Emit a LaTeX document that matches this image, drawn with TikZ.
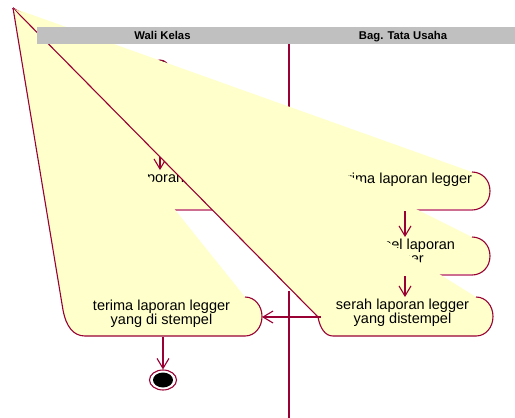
\documentclass[tikz,border=0pt]{standalone}
\usepackage{fontspec}
\setmainfont{Liberation Sans}
\usetikzlibrary{arrows.meta,shapes.geometric}
\definecolor{actline}{RGB}{153,0,51}
\definecolor{actfill}{RGB}{255,255,204}
\definecolor{actpink}{RGB}{205,110,145}
\definecolor{lanegray}{RGB}{192,192,192}

\begin{document}
\begin{tikzpicture}[x=1pt,y=-1pt]
    \tikzstyle{rim}=[draw=actline,line width=1.1pt]
    \tikzstyle{soft}=[draw=actpink,line width=1.1pt]
    \tikzstyle{actbody}=[fill=actfill]
    \tikzstyle{txt}=[anchor=base,align=center,inner sep=0pt,font=\fontsize{14.5}{14}\selectfont]
    \tikzstyle{head}=[anchor=base,inner sep=0pt,font=\bfseries\fontsize{11.3}{12}\selectfont]
    \tikzstyle{flow}=[draw=actline,line width=1.1pt,-{Straight Barb[length=10pt,width=12pt]}]
    \useasboundingbox (0,0) rectangle (515,418);
    \coordinate (T) at (13,8);

    % lane divider
    \draw[rim] (289,44) -- (289,107);
    \draw[rim] (289,291) -- (289,418);

    % start
    \node (S) at (160,69) [circle,fill=black,draw=actline,line width=1pt,minimum size=18pt,inner sep=0pt] {};

    % serah laporan legger (wali kelas)
    \fill[actbody] (T) -- (245,170) .. controls (255,170) and (262,179) .. (262,190) .. controls (262,201) and (255,210) .. (245,210) -- (90,210) .. controls (82,210) and (77,201) .. (75,190) -- cycle;
    \draw[rim] (245,170) .. controls (255,170) and (262,179) .. (262,190) .. controls (262,201) and (255,210) .. (245,210);
    \draw[soft] (245,210) -- (90,210);
    \draw[rim] (90,210) .. controls (82,210) and (77,201) .. (75,190) -- (T);
    \node (A1) at (162,182) [txt] {serah laporan legger};
    \coordinate (A1in) at (160,170);
    \coordinate (A1out) at (262,190);
    \draw[flow] (S) -- (A1in);

    % terima laporan legger (tata usaha)
    \fill[actbody] (T) -- (472,172) .. controls (482,172) and (490,180) .. (490,191) .. controls (490,202) and (482,210) .. (472,210) -- (335,210) .. controls (326,210) and (320,201) .. (318,191) -- cycle;
    \draw[rim] (472,172) .. controls (482,172) and (490,180) .. (490,191) .. controls (490,202) and (482,210) .. (472,210);
    \draw[soft] (472,210) -- (335,210);
    \draw[rim] (335,210) .. controls (326,210) and (320,201) .. (318,191) -- (T);
    \node (A2) at (403.5,183) [txt] {terima laporan legger};
    \coordinate (A2in) at (318,191);
    \coordinate (A2out) at (405,211);
    \draw[flow] (A1out) -- (A2in);

    % stempel laporan legger
    \fill[actbody] (T) -- (472,237) .. controls (482,237) and (490,245) .. (490,256) .. controls (490,267) and (482,275) .. (472,275) -- (335,275) .. controls (326,275) and (320,266) .. (318,256) -- cycle;
    \draw[rim] (472,237) .. controls (482,237) and (490,245) .. (490,256) .. controls (490,267) and (482,275) .. (472,275);
    \draw[soft] (472,275) -- (335,275);
    \draw[rim] (335,275) .. controls (326,275) and (320,266) .. (318,256) -- (T);
    \node (A3) at (403.5,263) [txt] {stempel laporan\\legger};
    \coordinate (A3in) at (405,237);
    \coordinate (A3out) at (405,276);
    \draw[flow] (A2out) -- (A3in);

    % serah laporan legger yang distempel
    \fill[actbody] (T) -- (476,297) .. controls (486,297) and (493,306) .. (493,316.5) .. controls (493,327) and (486,336) .. (476,336) -- (333,336) .. controls (325,336) and (320,328) .. (318,317) -- cycle;
    \draw[rim] (476,297) .. controls (486,297) and (493,306) .. (493,316.5) .. controls (493,327) and (486,336) .. (476,336) -- (333,336) .. controls (325,336) and (320,328) .. (318,317) -- (T);
    \node (A4) at (402.5,323) [txt] {serah laporan legger\\yang distempel};
    \coordinate (A4in) at (405,297);
    \coordinate (A4out) at (321,317);
    \draw[flow] (A3out) -- (A4in);

    % terima laporan legger yang di stempel
    \fill[actbody] (T) -- (245,297) .. controls (255,297) and (262,306) .. (262,316.5) .. controls (262,327) and (255,336) .. (245,336) -- (85,336) .. controls (73,336) and (66,326) .. (63,310) -- cycle;
    \draw[rim] (245,297) .. controls (255,297) and (262,306) .. (262,316.5) .. controls (262,327) and (255,336) .. (245,336) -- (85,336) .. controls (73,336) and (66,326) .. (63,310) -- (T);
    \node (A5) at (161.5,324) [txt] {terima laporan legger\\yang di stempel};
    \coordinate (A5in) at (262,317);
    \coordinate (A5out) at (163,337);
    \draw[flow] (A4out) -- (A5in);

    % end
    \node (E) at (163,380) [ellipse,draw=actline,fill=white,line width=1.1pt,minimum width=27pt,minimum height=20pt,inner sep=0pt,
      path picture={\fill[black] (path picture bounding box.center) ellipse [x radius=10pt,y radius=7.5pt];}] {};
    \draw[flow] (A5out) -- (E);

    % swimlane headers
    \fill[lanegray] (37,27) rectangle (515,44);
    \node (WK) at (162.5,39) [head] {Wali Kelas};
    \node (TU) at (403,39) [head] {Bag. Tata Usaha};
\end{tikzpicture}
\end{document}
